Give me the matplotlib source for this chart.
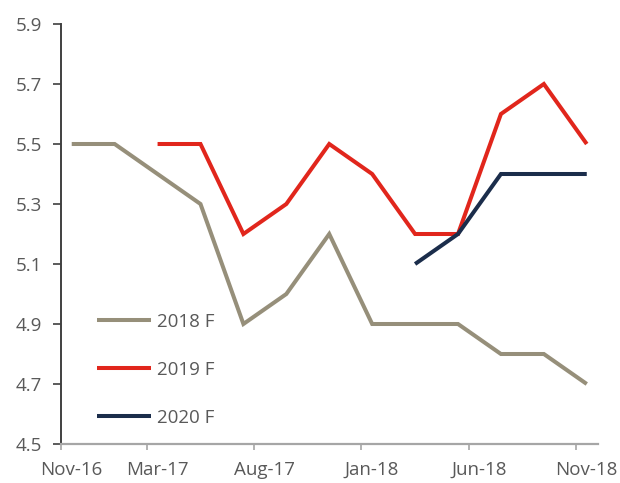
import numpy as np
import pandas as pd
import matplotlib
matplotlib.use("Agg")
import matplotlib.pyplot as plt

plt.rcParams['font.family'] = ['Open Sans', 'DejaVu Sans']

# ---- data ----
dates = ["Nov-16", "Jan-17", "Mar-17", "May-17", "Jul-17", "Sep-17", "Nov-17",
         "Jan-18", "Mar-18", "May-18", "Jul-18", "Sep-18", "Nov-18"]
f2018 = [5.5, 5.5, 5.4, 5.3, 4.9, 5.0, 5.2, 4.9, 4.9, 4.9, 4.8, 4.8, 4.7]
f2019 = [np.nan, np.nan, 5.5, 5.5, 5.2, 5.3, 5.5, 5.4, 5.2, 5.2, 5.6, 5.7, 5.5]
f2020 = [np.nan] * 8 + [5.1, 5.2, 5.4, 5.4, 5.4]
tick_labels = ["Nov-16", "Mar-17", "Aug-17", "Jan-18", "Jun-18", "Nov-18"]
series_names = ["2018 F", "2019 F", "2020 F"]
colors = ["#968f7a", "#e1261c", "#1b2d4b"]
y_ticks = [4.5, 4.7, 4.9, 5.1, 5.3, 5.5, 5.7, 5.9]

def month_index(labels):
    d = pd.to_datetime(labels, format="%b-%y")
    return np.array((d.year - 2016) * 12 + d.month - 11, dtype=float)

x = month_index(dates)
xt = month_index(tick_labels)

fig = plt.figure(figsize=(6.2, 4.83), dpi=100)
ax = fig.add_axes([61 / 620, 39 / 483, 536.5 / 620, 420 / 483])

for vals, name, c in zip([f2018, f2019, f2020], series_names, colors):
    ax.plot(x, vals, color=c, lw=2.9, label=name, solid_joinstyle='miter',
            solid_capstyle='butt')

ax.set_xlim(xt[0] - 0.5, xt[-1] + 0.5)
ax.set_ylim(4.5, 5.9)
ax.set_yticks(y_ticks)
ax.set_yticklabels([f"{v:.1f}" for v in y_ticks])

# tick marks at month boundaries, labels at month centres
ax.set_xticks(xt - 0.5)
ax.set_xticklabels([])
ax.set_xticks(xt, minor=True)
ax.set_xticklabels(tick_labels, minor=True)
ax.tick_params(axis='x', which='major', length=4, width=1.2, color='#a6a6a6', direction='out')
ax.tick_params(axis='x', which='minor', length=0, pad=12, labelsize=13.5, labelcolor='#595959')
ax.tick_params(axis='y', length=6, width=1.2, color='#404040', pad=7.5,
               labelsize=13.5, labelcolor='#595959')

for s in ['top', 'right']:
    ax.spines[s].set_visible(False)
ax.spines['left'].set_color('#404040')
ax.spines['left'].set_linewidth(1.4)
ax.spines['bottom'].set_color('#a6a6a6')
ax.spines['bottom'].set_linewidth(1.6)

leg = ax.legend(loc='upper left', bbox_to_anchor=(0.036, 0.352), frameon=False,
                fontsize=13.5, handlelength=2.85, handletextpad=0.33, labelspacing=1.6,
                labelcolor='#595959')

fig.savefig("out.png", dpi=100)
